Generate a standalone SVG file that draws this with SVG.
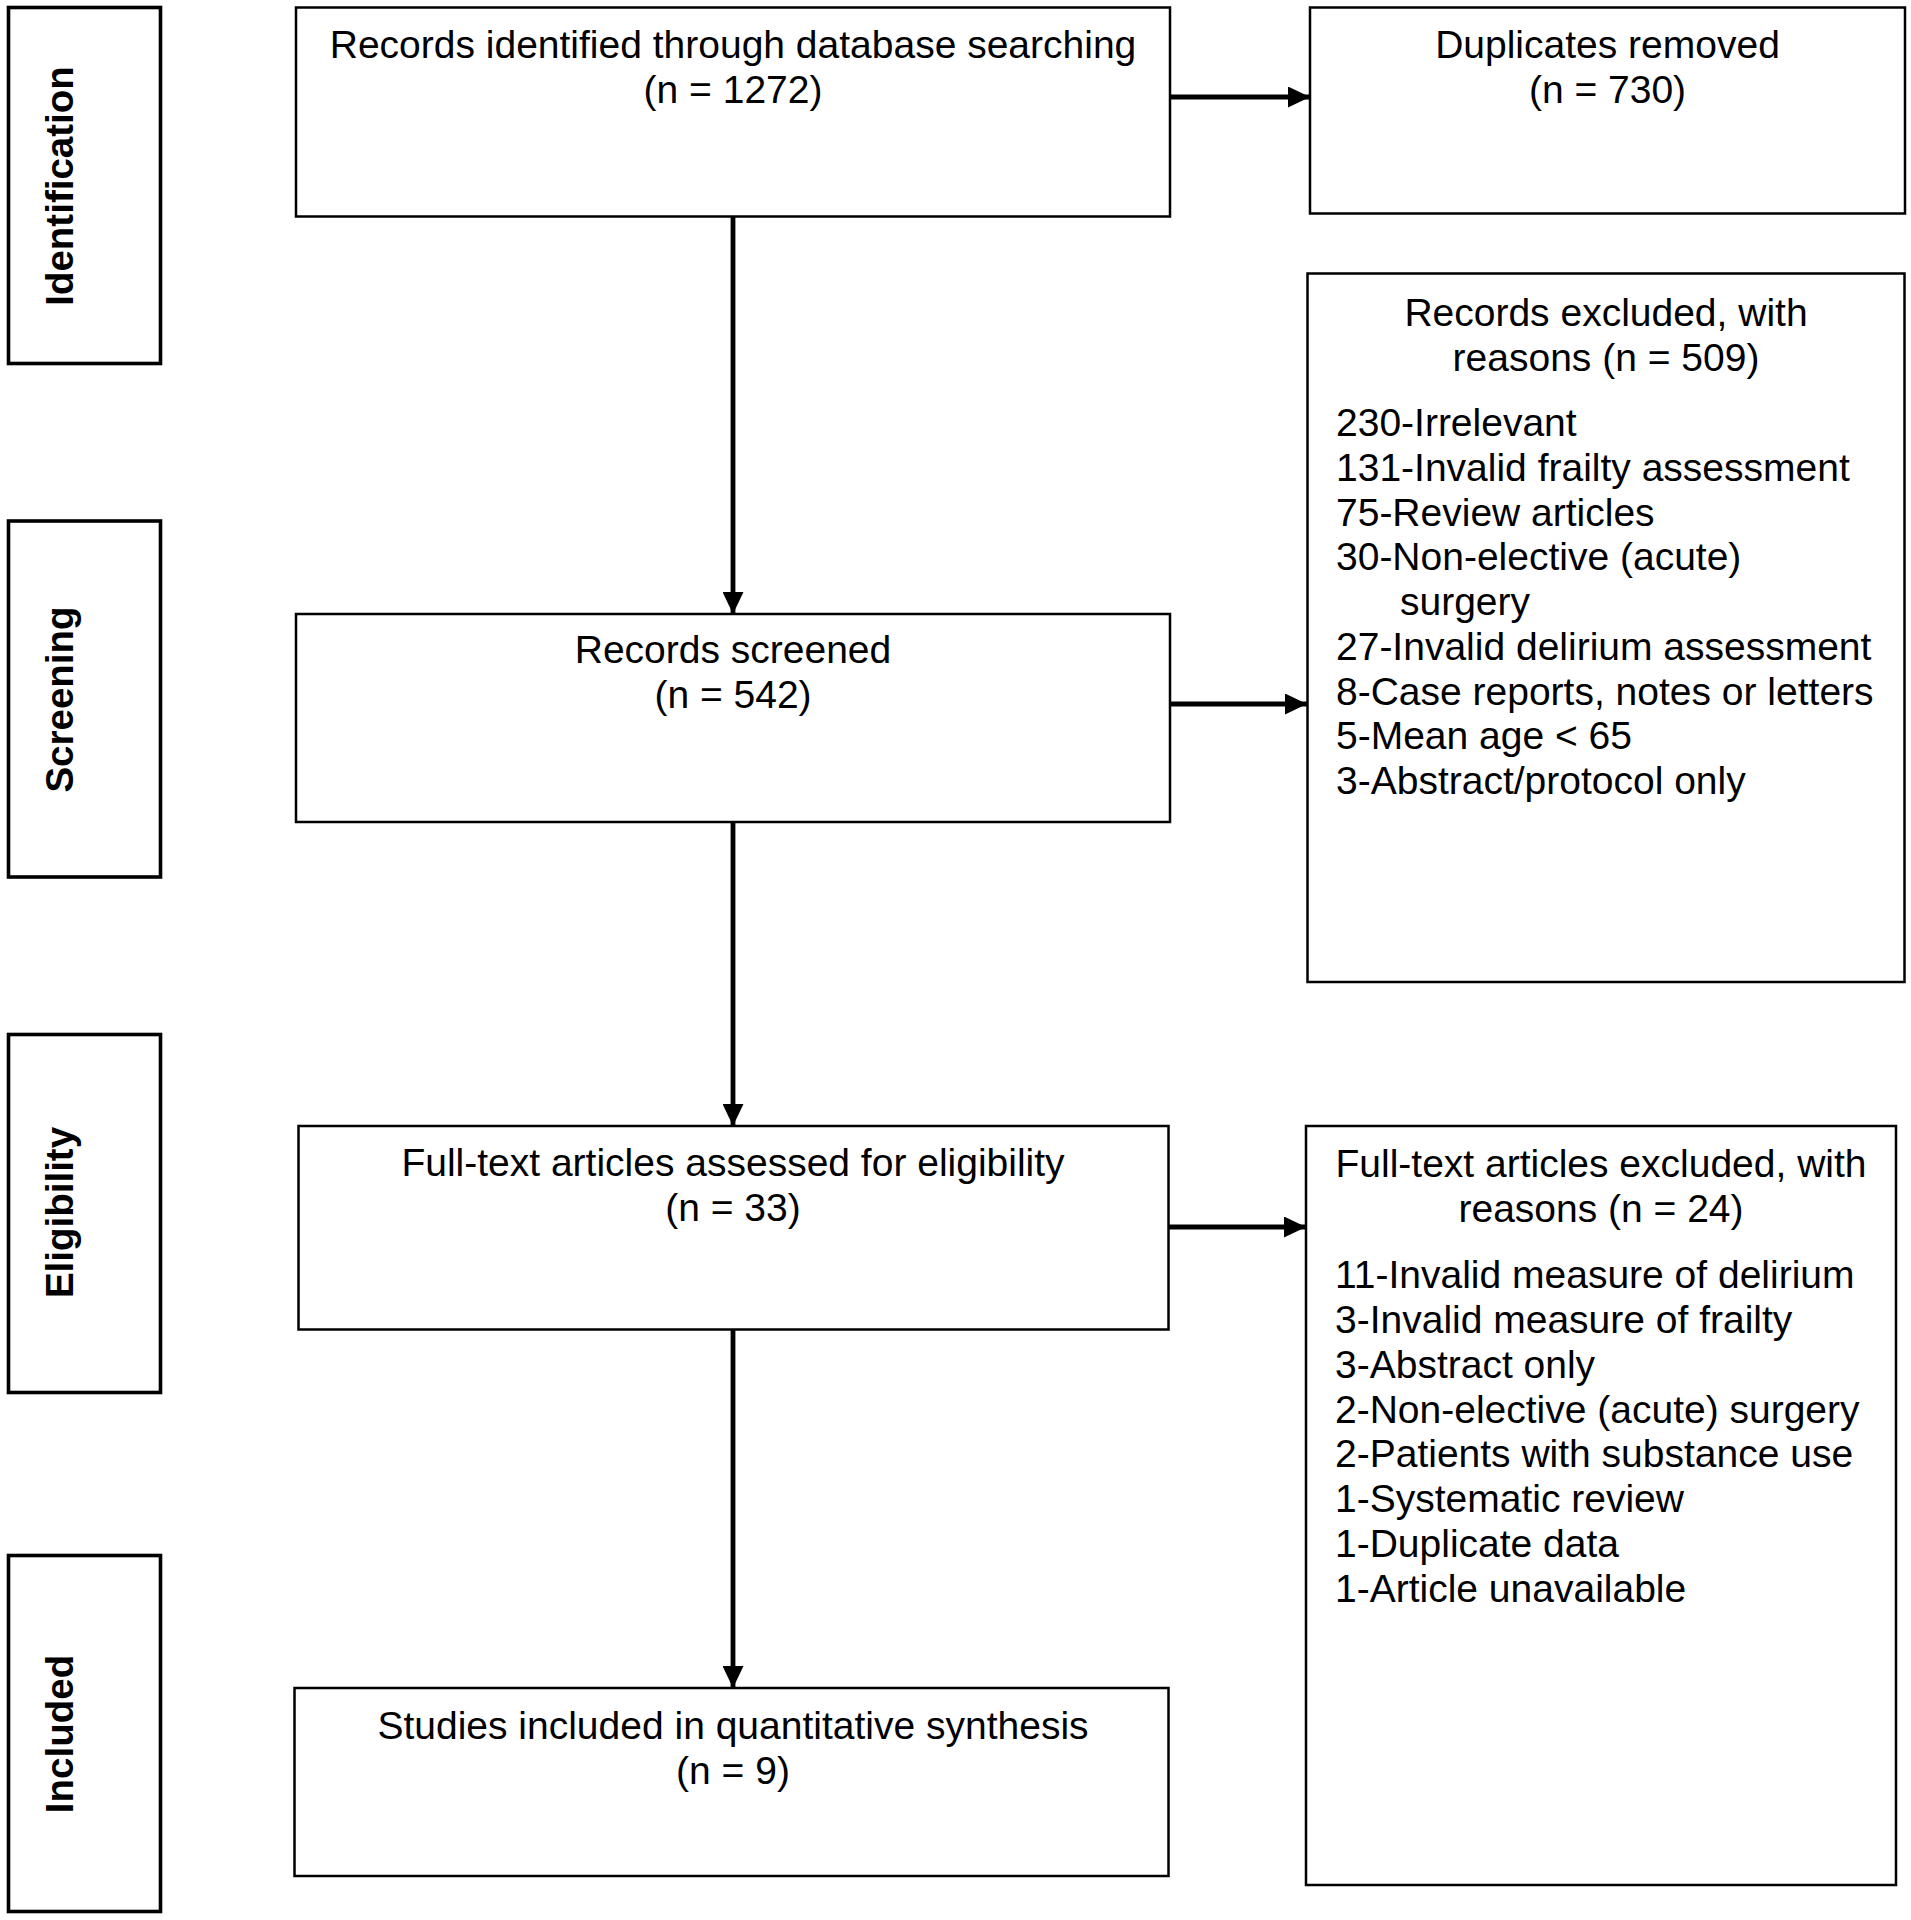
<svg xmlns="http://www.w3.org/2000/svg" width="1911" height="1920" viewBox="0 0 1911 1920">
<style>
.box{fill:#fff;stroke:#000;stroke-width:2.5}
.side{fill:#fff;stroke:#000;stroke-width:3.6}
.t{font-family:"Liberation Sans",Arial,sans-serif;font-size:39px;fill:#000}
.c{text-anchor:middle}
.s{font-family:"Liberation Sans",Arial,sans-serif;font-size:38.5px;font-weight:bold;fill:#000;text-anchor:middle}
.conn{stroke:#000;stroke-width:4.8;fill:none}
</style>
<defs>
<marker id="ah" viewBox="0 0 22 21" refX="22" refY="10.5" markerWidth="22" markerHeight="21" markerUnits="userSpaceOnUse" orient="auto">
<path d="M0,0 L22,10.5 L0,21 z" fill="#000"/>
</marker>
</defs>
<rect width="1911" height="1920" fill="#fff"/>
<g id="stage-identification">
<rect class="side" x="8.5" y="7.5" width="152" height="356"/>
<text class="s" transform="translate(73,186) rotate(-90)">Identification</text>
</g>
<g id="stage-screening">
<rect class="side" x="8.5" y="521" width="152" height="356"/>
<text class="s" transform="translate(73,699.5) rotate(-90)">Screening</text>
</g>
<g id="stage-eligibility">
<rect class="side" x="8.5" y="1034.5" width="152" height="358"/>
<text class="s" transform="translate(73,1212.5) rotate(-90)">Eligibility</text>
</g>
<g id="stage-included">
<rect class="side" x="8.5" y="1555.5" width="152" height="356"/>
<text class="s" transform="translate(73,1734) rotate(-90)">Included</text>
</g>
<g id="identified">
<rect class="box" x="296" y="7.5" width="874" height="209"/>
<text class="t c" x="733" y="58">Records identified through database searching</text>
<text class="t c" x="733" y="103">(n = 1272)</text>
</g>
<g id="duplicates">
<rect class="box" x="1310" y="7.5" width="595" height="206"/>
<text class="t c" x="1607.5" y="58">Duplicates removed</text>
<text class="t c" x="1607.5" y="103">(n = 730)</text>
</g>
<g id="screened">
<rect class="box" x="296" y="614" width="874" height="208"/>
<text class="t c" x="733" y="663">Records screened</text>
<text class="t c" x="733" y="708">(n = 542)</text>
</g>
<g id="records-excluded">
<rect class="box" x="1307.5" y="273.5" width="597" height="708.5"/>
<text class="t c" x="1606" y="326">Records excluded, with</text>
<text class="t c" x="1606" y="371">reasons (n = 509)</text>
<text class="t" x="1336" y="436">230-Irrelevant</text>
<text class="t" x="1336" y="480.7">131-Invalid frailty assessment</text>
<text class="t" x="1336" y="525.5">75-Review articles</text>
<text class="t" x="1336" y="570.2">30-Non-elective (acute)</text>
<text class="t" x="1400" y="615">surgery</text>
<text class="t" x="1336" y="659.7">27-Invalid delirium assessment</text>
<text class="t" x="1336" y="704.5">8-Case reports, notes or letters</text>
<text class="t" x="1336" y="749.2">5-Mean age &lt; 65</text>
<text class="t" x="1336" y="794">3-Abstract/protocol only</text>
</g>
<g id="assessed">
<rect class="box" x="298.5" y="1126" width="870" height="203.5"/>
<text class="t c" x="733" y="1176">Full-text articles assessed for eligibility</text>
<text class="t c" x="733" y="1221">(n = 33)</text>
</g>
<g id="fulltext-excluded">
<rect class="box" x="1306" y="1126" width="590" height="759"/>
<text class="t c" x="1601" y="1177">Full-text articles excluded, with</text>
<text class="t c" x="1601" y="1222">reasons (n = 24)</text>
<text class="t" x="1335" y="1288">11-Invalid measure of delirium</text>
<text class="t" x="1335" y="1332.9">3-Invalid measure of frailty</text>
<text class="t" x="1335" y="1377.7">3-Abstract only</text>
<text class="t" x="1335" y="1422.6">2-Non-elective (acute) surgery</text>
<text class="t" x="1335" y="1467.4">2-Patients with substance use</text>
<text class="t" x="1335" y="1512.3">1-Systematic review</text>
<text class="t" x="1335" y="1557.1">1-Duplicate data</text>
<text class="t" x="1335" y="1602">1-Article unavailable</text>
</g>
<g id="included">
<rect class="box" x="294.5" y="1688" width="874" height="188"/>
<text class="t c" x="733" y="1739">Studies included in quantitative synthesis</text>
<text class="t c" x="733" y="1784">(n = 9)</text>
</g>
<g id="connectors">
<line class="conn" x1="1171" y1="97" x2="1310" y2="97" marker-end="url(#ah)"/>
<line class="conn" x1="733" y1="217" x2="733" y2="614" marker-end="url(#ah)"/>
<line class="conn" x1="1171" y1="704" x2="1307" y2="704" marker-end="url(#ah)"/>
<line class="conn" x1="733" y1="822" x2="733" y2="1126" marker-end="url(#ah)"/>
<line class="conn" x1="1169" y1="1227" x2="1306" y2="1227" marker-end="url(#ah)"/>
<line class="conn" x1="733" y1="1330" x2="733" y2="1688" marker-end="url(#ah)"/>
</g>
</svg>
